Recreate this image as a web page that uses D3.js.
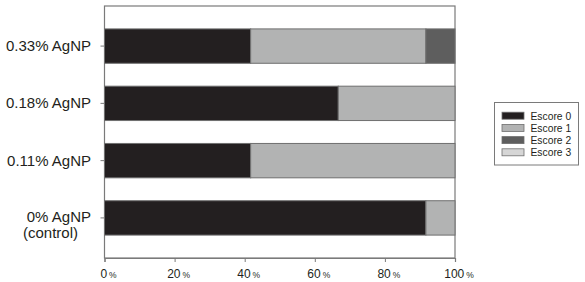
<!DOCTYPE html>
<html>
<head>
<meta charset="utf-8">
<script src="https://cdn.jsdelivr.net/npm/d3@7"></script>
<style>
  body { margin: 0; background: #fff; }
  text { font-family: "Liberation Sans", Arial, sans-serif; fill: #231f20; }
</style>
</head>
<body>
<script>
let grupos = ["0.33% AgNP", "0.18% AgNP", "0.11% AgNP", "0% AgNP|(control)"];
let escores = ["Escore 0", "Escore 1", "Escore 2", "Escore 3"];
let escore0 = [41.7, 66.7, 41.7, 91.7];
let escore1 = [50, 33.3, 58.3, 8.3];
let escore2 = [8.3, 0, 0, 0];
let escore3 = [0, 0, 0, 0];
let ticksX = [0, 20, 40, 60, 80, 100];

let colores = ["#231f20", "#b2b3b3", "#5e5e5e", "#d6d6d6"];

function graficar() {
  let w = 585;
  let h = 282;
  let m = { left: 104.5, right: 455, top: 6, bottom: 258 };

  let svg = d3.select("body").append("svg").attr("width", w).attr("height", h);

  let x = d3.scaleLinear().domain([0, 100]).range([m.left, m.right]);
  let y = d3.scaleBand().domain(grupos).range([m.top, m.bottom])
    .paddingInner(0.4).paddingOuter(0.4);

  // tabla para apilar
  let tabla = grupos.map(function (g, i) {
    return { grupo: g, "Escore 0": escore0[i], "Escore 1": escore1[i], "Escore 2": escore2[i], "Escore 3": escore3[i] };
  });
  let pila = d3.stack().keys(escores)(tabla);

  // marco
  svg.append("rect")
    .attr("x", m.left).attr("y", m.top)
    .attr("width", m.right - m.left).attr("height", m.bottom - m.top)
    .attr("fill", "none").attr("stroke", "#7a7a7a").attr("stroke-width", 1.2);

  svg.append("g")
    .selectAll("g")
    .data(pila)
    .enter()
    .append("g")
    .attr("fill", function (d, i) { return colores[i]; })
    .selectAll("rect")
    .data(function (d) { return d.filter(function (p) { return p[1] - p[0] > 0; }); })
    .enter()
    .append("rect")
    .attr("x", function (d) { return x(d[0]); })
    .attr("y", function (d) { return y(d.data.grupo); })
    .attr("width", function (d) { return x(d[1]) - x(d[0]); })
    .attr("height", y.bandwidth())
    .attr("stroke", "#6f6f6f")
    .attr("stroke-width", 1);

  // eje x
  let ejeX = svg.append("g").attr("transform", "translate(0," + m.bottom + ")")
    .call(d3.axisBottom(x).tickValues(ticksX).tickSize(4).tickFormat(""));
  ejeX.select(".domain").attr("stroke", "#7a7a7a").attr("stroke-width", 1.2);
  ejeX.selectAll(".tick line").attr("stroke", "#7a7a7a");

  let etq = svg.append("g").selectAll("text")
    .data(ticksX).enter().append("text")
    .attr("x", function (d) { return x(d) + 4; })
    .attr("y", 278)
    .attr("text-anchor", "middle");
  etq.append("tspan").attr("font-size", 12).text(function (d) { return d; });
  etq.append("tspan").attr("font-size", 8.5).attr("dx", 2).text("%");

  // eje y
  let ejeY = svg.append("g").attr("transform", "translate(" + m.left + ",0)")
    .call(d3.axisLeft(y).tickSize(4).tickFormat(""));
  ejeY.select(".domain").remove();
  ejeY.selectAll(".tick line").attr("stroke", "#7a7a7a");

  grupos.forEach(function (g) {
    let partes = g.split("|");
    let cy = y(g) + y.bandwidth() / 2;
    if (partes.length === 1) {
      svg.append("text").attr("x", 91).attr("y", cy + 5)
        .attr("text-anchor", "end").attr("font-size", 15).text(partes[0]);
    } else {
      svg.append("text").attr("x", 91).attr("y", cy + 4)
        .attr("text-anchor", "end").attr("font-size", 15).text(partes[0]);
      svg.append("text").attr("x", 23).attr("y", cy + 20)
        .attr("text-anchor", "start").attr("font-size", 15).text(partes[1]);
    }
  });

  // leyenda
  let ley = svg.append("g");
  ley.append("rect")
    .attr("x", 494.5).attr("y", 102.5).attr("width", 84).attr("height", 62.5)
    .attr("fill", "#fff").attr("stroke", "#7a7a7a").attr("stroke-width", 1);

  let filas = ley.selectAll("g.fila").data(escores).enter().append("g")
    .attr("class", "fila")
    .attr("transform", function (d, i) { return "translate(0," + (115.7 + i * 12.2) + ")"; });
  filas.append("rect")
    .attr("x", 502).attr("y", -3.5).attr("width", 22).attr("height", 7)
    .attr("fill", function (d, i) { return colores[i]; })
    .attr("stroke", "#6f6f6f").attr("stroke-width", 0.8);
  filas.append("text")
    .attr("x", 530.5).attr("y", 3.8).attr("font-size", 10.3)
    .text(function (d) { return d; });
}

graficar();
</script>
</body>
</html>
